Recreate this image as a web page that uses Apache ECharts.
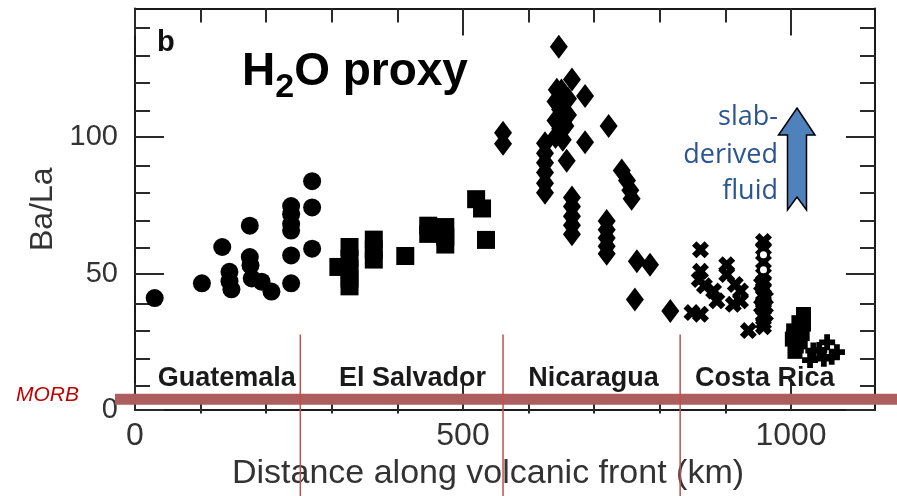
<!DOCTYPE html>
<html><head><meta charset="utf-8">
<script src="https://cdn.jsdelivr.net/npm/echarts@6/dist/echarts.min.js"></script>
<style>html,body{margin:0;padding:0;background:#fff}#c{width:897px;height:496px}</style>
</head><body><div id="c"></div>
<script>
// ---- data: [distance km, Ba/La] ----
const guatemala = [[30,41],[102,46.4],[133,59.7],[144,50.6],[144,47.2],[147,44.2],[175,67.5],[175,56],[176,53],[178,48.2],[193,47],[208,43.4],[238,74.7],[238,71.7],[238,68.1],[238,65.7],[238,56.6],[238,46.4],[270,83.8],[270,74.2],[270,59.1]];
const elSalvador = [[310,52.4],[327,59.7],[327,55.4],[327,51.8],[327,48.2],[327,45.3],[364,62.4],[364,58.7],[364,55.1],[412,56.4],[447,67.5],[447,64.5],[473,67],[473,63.5],[473,60.6],[520,77.2],[529,73.8],[535,62.3]];
const nicaragua = [[646,133],[561,101.5],[561,97.5],[666,121],[643,117.3],[686,115],[641,113],[648,110],[641,106],[648,103],[641,100],[652,112],[660,114],[660,108],[656,104],[650,117],[652,99],[722,104],[686,98],[658,91.3],[625,97.7],[625,94],[625,90.5],[625,87],[625,83],[625,79.6],[666,77.8],[666,74.5],[666,71],[666,67.7],[666,64.4],[742,87.7],[750,84],[755,80.5],[757,77.4],[719,69.2],[719,66],[719,63],[719,60],[719,57.2],[765,54.5],[785,53.2],[762,40.5],[816,36.3]];
const costaRicaX = [[862,58.7],[862,50.8],[860,47.8],[868,45.5],[849,35.7],[862,35.1],[882,43.6],[887,40],[902,53.2],[902,49.6],[915,46],[923,43.6],[923,40],[912,38.7],[935,29.1],[958,61.7],[958,59.2],[958,54.2],[958,49.5],[958,47],[958,44.5],[958,42],[958,39.5],[958,37],[958,34.5],[958,32],[958,30.5],[955,46],[955,38],[961,41],[961,35]];
const costaRicaOpen = [[958,56.9],[958,51.4]];
const costaRicaSquare = [[1019,35],[1019,31.5],[1017,28],[1004,29],[1002,26],[1008,23.5],[1014,25],[1006,21.5],[1012,32],[1004,26.5]];
const costaRicaPlus = [[1055,24.8],[1034,21.8],[1070,21.2],[1050,18.8],[1029,18.3],[1043,22],[1062,19.5]];

const xMajorTicks = [0,500,1000];
const xMinorTicks = [100,200,300,400,600,700,800,900];
const yMajorTicks = [0,50,100];
const yMinorTicks = [10,20,30,40,60,70,80,90,110,120,130,140];
const regionNames = ['Guatemala','El Salvador','Nicaragua','Costa Rica'];
const regionLabelX = [140,423,699,960];
const regionLabelY = 11.4;
const boundaries = [252,561,831];
const boundaryTop = 27.7;
const morbValue = 4;

const X_MIN = 0, X_MAX = 1128, Y_MIN = 0, Y_MAX = 147;
const FONT = 'Liberation Sans';

const chart = echarts.init(document.getElementById('c'));
const gridRect = {left:135, right:22, top:8.5, bottom:82.5};
const tickStyle = {color:'#2a2a2a', width:2};
const lineStyle = {color:'#1a1a1a', width:2};

function xAxisDef(grid, pos, ticks, len, main) {
  return {
    type:'value', gridIndex:grid, position:pos, min:X_MIN, max:X_MAX,
    axisLine:{show:main, onZero:false, lineStyle:lineStyle},
    axisTick:{show:true, inside:true, length:len, customValues:ticks, lineStyle:tickStyle},
    axisLabel:{show: main && pos==='bottom', customValues:xMajorTicks, formatter:v=>String(v),
      fontFamily:FONT, fontSize:32, color:'#333', margin:10},
    splitLine:{show:false}, minorTick:{show:false},
    name: (main && pos==='bottom') ? 'Distance along volcanic front (km)' : '',
    nameLocation:'middle', nameGap:44,
    nameTextStyle:{fontFamily:FONT, fontSize:34, color:'#333', padding:[0,34,0,0]}
  };
}
function yAxisDef(grid, pos, ticks, len, main) {
  return {
    type:'value', gridIndex:grid, position:pos, min:Y_MIN, max:Y_MAX,
    axisLine:{show:main, onZero:false, lineStyle:lineStyle},
    axisTick:{show:true, inside:true, length:len, customValues:ticks, lineStyle:tickStyle},
    axisLabel:{show: main && pos==='left', customValues:yMajorTicks, formatter:v=>String(v),
      fontFamily:FONT, fontSize:29, color:'#333', margin:17},
    splitLine:{show:false}, minorTick:{show:false},
    name: (main && pos==='left') ? 'Ba/La' : '',
    nameLocation:'middle', nameGap:68,
    nameTextStyle:{fontFamily:FONT, fontSize:32, color:'#333'}
  };
}

const xPath = 'path://M0,2.6 L2.6,0 L5,2.4 L7.4,0 L10,2.6 L7.6,5 L10,7.4 L7.4,10 L5,7.6 L2.6,10 L0,7.4 L2.4,5 Z';
const plusPath = 'path://M3.2,0 H6.8 V3.2 H10 V6.8 H6.8 V10 H3.2 V6.8 H0 V3.2 H3.2 Z';

function sc(name, data, symbol, size, style) {
  return {type:'scatter', name, data, symbol, symbolSize:size, xAxisIndex:0, yAxisIndex:0,
    itemStyle: style || {color:'#000', opacity:1}, emphasis:{disabled:true}, silent:true};
}

const option = {
  animation:false,
  grid:[Object.assign({}, gridRect), Object.assign({}, gridRect)],
  xAxis:[
    xAxisDef(0,'bottom',xMajorTicks,27,true),
    xAxisDef(0,'top',xMajorTicks,27,true),
    xAxisDef(1,'bottom',xMinorTicks,14,false),
    xAxisDef(1,'top',xMinorTicks,14,false)
  ],
  yAxis:[
    yAxisDef(0,'left',yMajorTicks,29,true),
    yAxisDef(0,'right',yMajorTicks,29,true),
    yAxisDef(1,'left',yMinorTicks,15,false),
    yAxisDef(1,'right',yMinorTicks,15,false)
  ],
  series:[
    sc('Guatemala', guatemala, 'circle', 18),
    sc('El Salvador', elSalvador, 'rect', 18),
    sc('Nicaragua', nicaragua, 'diamond', [18,24]),
    sc('Costa Rica X', costaRicaX, xPath, 17),
    sc('Costa Rica open', costaRicaOpen, 'circle', 10, {color:'#fff', borderColor:'#000', borderWidth:3, opacity:1}),
    sc('Costa Rica sq', costaRicaSquare, 'rect', 15),
    sc('Costa Rica plus', costaRicaPlus, plusPath, 16)
  ]
};
chart.setOption(option);

const P = (x,y) => chart.convertToPixel({gridIndex:0},[x,y]);
const gfx = [];
const morbY = P(0, morbValue)[1];
gfx.push({type:'rect', z:100, shape:{x:115, y:morbY-5.5, width:782, height:11}, style:{fill:'#ad5f5f'}});
boundaries.forEach(b => {
  const p = P(b, boundaryTop);
  gfx.push({type:'line', z:101, shape:{x1:p[0], y1:p[1], x2:p[0], y2:496}, style:{stroke:'#c0504d', lineWidth:1.5}});
});
regionNames.forEach((n,i) => {
  const p = P(regionLabelX[i], regionLabelY);
  gfx.push({type:'text', z:100, x:p[0], y:p[1], style:{text:n, fontFamily:FONT, fontSize:27, fontWeight:'bold', fill:'#1a1a1a', align:'center', textAlign:'center', verticalAlign:'middle', textVerticalAlign:'middle'}});
});
// annotations
gfx.push({type:'text', z:100, x:16, y:395, style:{text:'MORB', fontFamily:FONT, fontSize:21, fontStyle:'italic', fill:'#c00000', align:'left', textAlign:'left', verticalAlign:'middle', textVerticalAlign:'middle'}});
gfx.push({type:'text', z:100, x:157, y:43, style:{text:'b', fontFamily:FONT, fontSize:29, fontWeight:'bold', fill:'#111', align:'left', textAlign:'left', verticalAlign:'middle', textVerticalAlign:'middle'}});
gfx.push({type:'text', z:100, x:242, y:49, style:{
  text:'{h|H}{s|2}{h|O proxy}', align:'left', textAlign:'left', verticalAlign:'top', textVerticalAlign:'top',
  rich:{
    h:{fontFamily:FONT, fontSize:46, fontWeight:'bold', fill:'#000', color:'#000', lineHeight:46, verticalAlign:'top'},
    s:{fontFamily:FONT, fontSize:34, fontWeight:'bold', fill:'#000', color:'#000', lineHeight:56, verticalAlign:'bottom'}
  }}});
const blue = '#2b5592';
[['slab-',117.8],['derived',155.2],['fluid',191.2]].forEach(t => {
  gfx.push({type:'text', z:100, x:778, y:t[1], style:{text:t[0], fontFamily:'Open Sans', fontSize:27, fill:blue, align:'right', textAlign:'right', verticalAlign:'middle', textVerticalAlign:'middle'}});
});
gfx.push({type:'polygon', z:100, shape:{points:[[797,108],[815,135],[806.5,135],[806.5,210],[797,197],[787.5,210],[787.5,135],[778.5,135]]},
  style:{fill:'#4f81bd', stroke:'#000', lineWidth:1.5}});
chart.setOption({graphic:gfx});
</script>
</body></html>
